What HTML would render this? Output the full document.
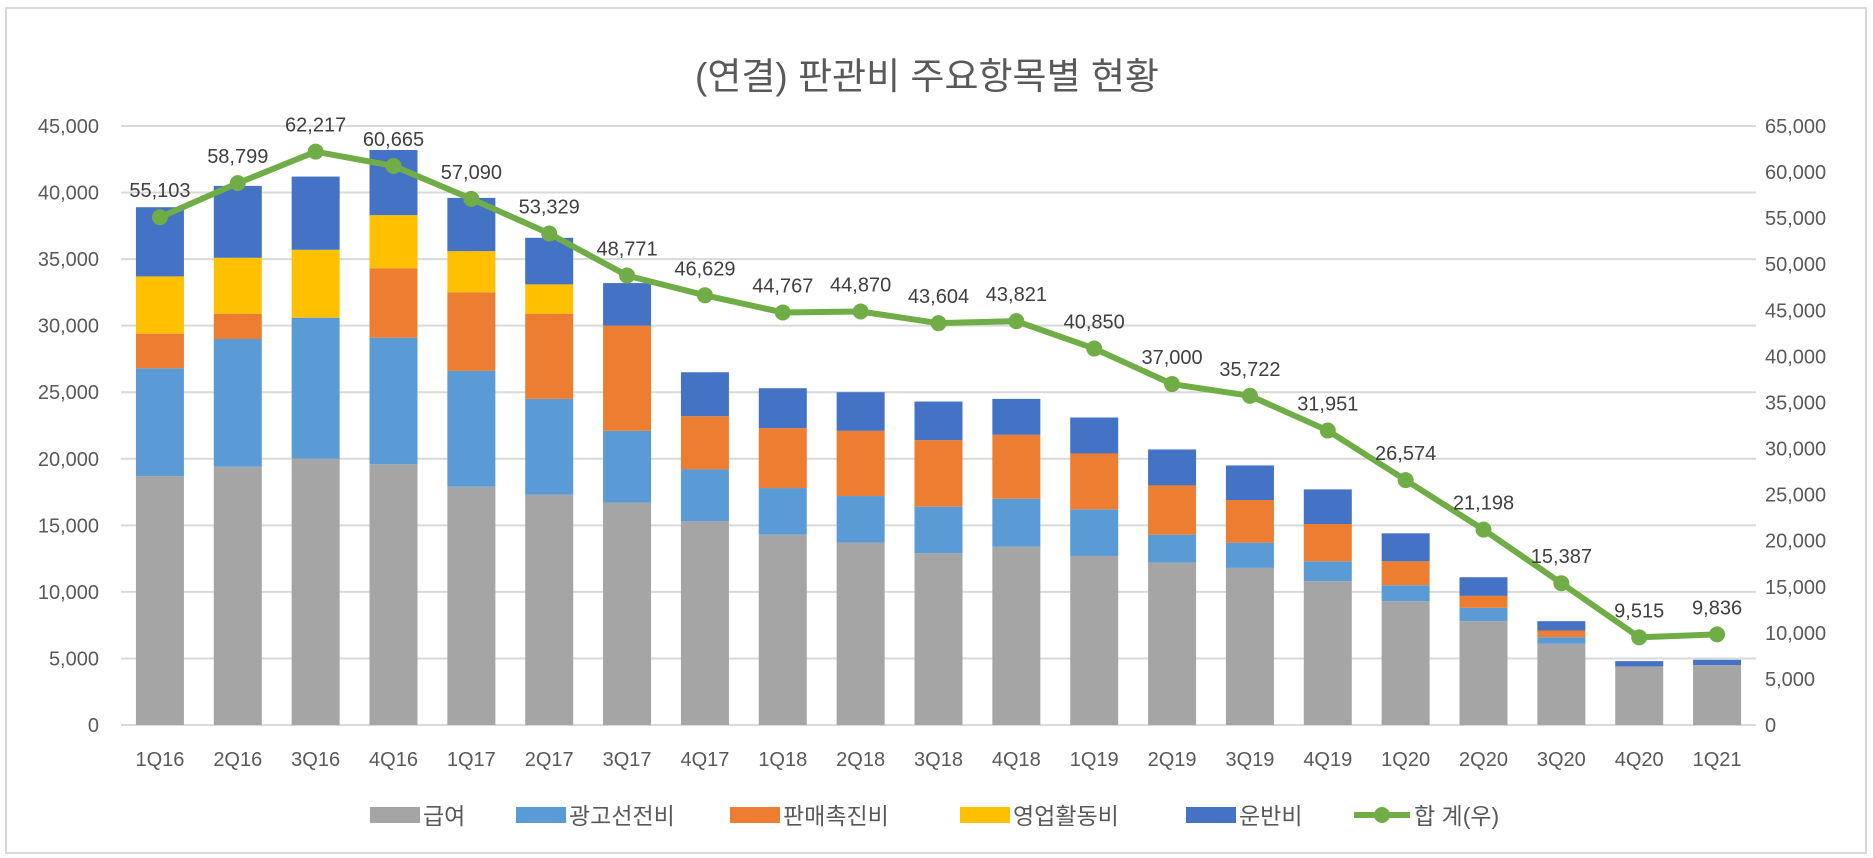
<!DOCTYPE html>
<html><head><meta charset="utf-8"><style>
html,body{margin:0;padding:0;background:#fff;}
svg{display:block;font-family:"Liberation Sans","Noto Sans CJK KR",sans-serif;}
</style></head><body>
<svg id="chart" width="1873" height="858" viewBox="0 0 1873 858">
<rect x="6" y="8" width="1860" height="845" fill="#fff" stroke="#d9d9d9" stroke-width="2"/>
<text x="927" y="89" text-anchor="middle" font-size="37" fill="#595959">(연결) 판관비 주요항목별 현황</text>
<g id="grid"></g><g id="bars"></g><g id="line"></g><g id="axes"></g><g id="legend"></g>
</svg>
<script>
const categories=["1Q16","2Q16","3Q16","4Q16","1Q17","2Q17","3Q17","4Q17","1Q18","2Q18","3Q18","4Q18","1Q19","2Q19","3Q19","4Q19","1Q20","2Q20","3Q20","4Q20","1Q21"];
const salary=[18700,19400,20000,19600,17900,17300,16700,15300,14300,13700,12900,13400,12700,12200,11800,10800,9300,7800,6100,4400,4500];
const advertising=[8100,9600,10600,9500,8700,7200,5400,3900,3500,3500,3500,3600,3500,2100,1900,1500,1200,1000,500,0,0];
const promotion=[2600,1900,0,5200,5900,6400,7900,4000,4500,4900,5000,4800,4200,3700,3200,2800,1800,900,500,0,0];
const sales=[4300,4200,5100,4000,3100,2200,0,0,0,0,0,0,0,0,0,0,0,0,0,0,0];
const shipping=[5200,5400,5500,4900,4000,3500,3200,3300,3000,2900,2900,2700,2700,2700,2600,2600,2100,1400,700,400,400];
const totals=[55103,58799,62217,60665,57090,53329,48771,46629,44767,44870,43604,43821,40850,37000,35722,31951,26574,21198,15387,9515,9836];
const leftTicks=[0,5000,10000,15000,20000,25000,30000,35000,40000,45000];
const rightTicks=[0,5000,10000,15000,20000,25000,30000,35000,40000,45000,50000,55000,60000,65000];
const seriesNames=["급여","광고선전비","판매촉진비","영업활동비","운반비"];
const seriesColors=["#a5a5a5","#5b9bd5","#ed7d31","#ffc000","#4472c4"];
const NS="http://www.w3.org/2000/svg";
const X0=121,X1=1756,Y0=725,YT=126;
const step=(X1-X0)/categories.length;
const xC=i=>X0+step*(i+0.5);
const yL=v=>Y0-(v/45000)*(Y0-YT);
const yR=v=>Y0-(v/65000)*(Y0-YT);
const fmt=v=>v.toLocaleString("en-US");
function mk(tag,attrs,parent,text){const e=document.createElementNS(NS,tag);for(const k in attrs)e.setAttribute(k,attrs[k]);if(text!==undefined)e.textContent=text;parent.appendChild(e);return e;}
const grid=document.getElementById("grid"),axes=document.getElementById("axes");
leftTicks.forEach(t=>{
  const l=mk("line",{x1:X0,x2:X1,y1:yL(t),y2:yL(t),stroke:"#d9d9d9","stroke-width":2},grid);
  
  
  const tx=mk("text",{x:X0-22,y:yL(t)+7,"text-anchor":"end","font-size":20,fill:"#595959"},axes,fmt(t));
  
  
});
rightTicks.forEach(t=>{
  const tx=mk("text",{x:1765,y:yR(t)+7,"text-anchor":"start","font-size":20,fill:"#595959"},axes,fmt(t));
  
  
});
categories.forEach((c,i)=>{
  const tx=mk("text",{x:xC(i),y:766,"text-anchor":"middle","font-size":20,fill:"#595959"},axes,c);
  
  
});
const bars=document.getElementById("bars");
const series=[salary,advertising,promotion,sales,shipping];
categories.forEach((c,i)=>{
  let acc=0;
  series.forEach((s,k)=>{
    const v=s[i]; if(v<=0) return;
    const r=mk("rect",{x:xC(i)-24,width:48,y:yL(acc+v),height:yL(acc)-yL(acc+v),fill:seriesColors[k]},bars);
    
    
    acc+=v;
  });
});
const lg=document.getElementById("line");
const pts=totals.map((v,i)=>xC(i)+","+yR(v)).join(" ");
const pl=mk("polyline",{points:pts,fill:"none",stroke:"#70ad47","stroke-width":6,"stroke-linejoin":"round"},lg);


totals.forEach((v,i)=>{
  const c=mk("circle",{cx:xC(i),cy:yR(v),r:8,fill:"#70ad47"},lg);
  
  
  const t=mk("text",{x:xC(i),y:yR(v)-20,"text-anchor":"middle","font-size":20,fill:"#404040"},lg,fmt(v));
  
  
});
const leg=document.getElementById("legend");
const legX=[370,516,730,960,1186];
seriesNames.forEach((n,k)=>{
  const r=mk("rect",{x:legX[k],y:807,width:50,height:16,fill:seriesColors[k]},leg);
  
  
  const t=mk("text",{x:legX[k]+53,y:824,"font-size":23,fill:"#595959"},leg,n);
  
  
});
const ll=mk("line",{x1:1354,x2:1410,y1:815,y2:815,stroke:"#70ad47","stroke-width":6},leg);


const lc=mk("circle",{cx:1382,cy:815,r:8,fill:"#70ad47"},leg);


const lt=mk("text",{x:1414,y:824,"font-size":23,fill:"#595959"},leg,"합 계(우)");


</script>
</body></html>
